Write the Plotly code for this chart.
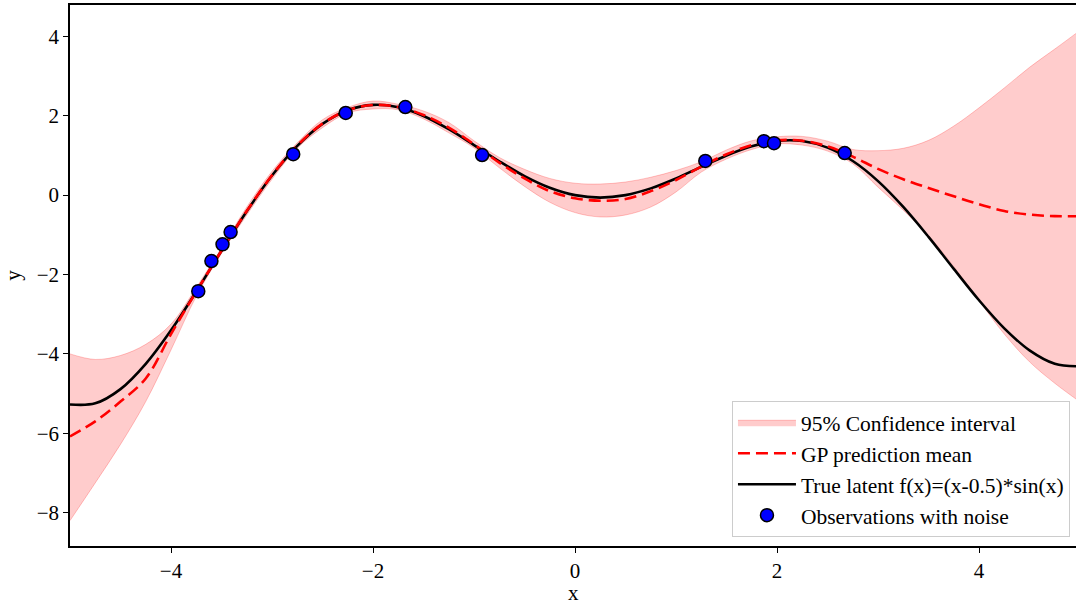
import plotly.graph_objects as go

# grid of x positions (every 0.25)
x_grid = [-5.0, -4.75, -4.5, -4.25, -4.0, -3.75, -3.5, -3.25, -3.0, -2.75,
          -2.5, -2.25, -2.0, -1.75, -1.5, -1.25, -1.0, -0.75, -0.5, -0.25,
          0.0, 0.25, 0.5, 0.75, 1.0, 1.25, 1.5, 1.75, 2.0, 2.25,
          2.5, 2.75, 3.0, 3.25, 3.5, 3.75, 4.0, 4.25, 4.5, 4.75, 5.0]

# true latent function values
true_y = [-5.274, -5.246, -4.888, -4.251, -3.406, -2.429, -1.403, -0.406, 0.494, 1.241,
          1.796, 2.140, 2.273, 2.214, 1.995, 1.661, 1.262, 0.852, 0.479, 0.186,
          0.0, -0.062, 0.0, 0.170, 0.421, 0.712, 0.998, 1.230, 1.364, 1.362,
          1.197, 0.859, 0.353, -0.298, -1.052, -1.858, -2.649, -3.356, -3.910, -4.247, -4.315]

# GP prediction mean
gp_mean = [-6.08, -5.70, -5.20, -4.62, -3.50, -2.43, -1.40, -0.40, 0.50, 1.25,
           1.80, 2.14, 2.27, 2.22, 2.02, 1.70, 1.28, 0.82, 0.42, 0.10,
           -0.08, -0.14, -0.10, 0.10, 0.38, 0.72, 1.03, 1.26, 1.38, 1.37,
           1.23, 0.97, 0.66, 0.40, 0.18, -0.03, -0.23, -0.40, -0.49, -0.53, -0.53]

# 95% confidence interval bounds
ci_upper = [-4.00, -4.14, -4.04, -3.76, -3.25, -2.33, -1.33, -0.30, 0.60, 1.32,
            1.90, 2.21, 2.37, 2.29, 2.12, 1.83, 1.37, 0.95, 0.65, 0.42,
            0.30, 0.28, 0.33, 0.45, 0.62, 0.84, 1.14, 1.37, 1.47, 1.48,
            1.36, 1.15, 1.12, 1.18, 1.38, 1.74, 2.20, 2.70, 3.22, 3.68, 4.15]
ci_lower = [-8.20, -7.25, -6.28, -5.20, -3.90, -2.55, -1.47, -0.50, 0.40, 1.18,
            1.70, 2.07, 2.17, 2.15, 1.92, 1.57, 1.19, 0.69, 0.22, -0.18,
            -0.44, -0.55, -0.50, -0.30, 0.08, 0.58, 0.91, 1.15, 1.29, 1.26,
            1.11, 0.79, 0.20, -0.38, -1.02, -1.80, -2.66, -3.50, -4.20, -4.74, -5.21]

# noisy observations
obs_x = [-3.73, -3.60, -3.49, -3.41, -2.79, -2.27, -1.68, -0.92, 1.29, 1.87, 1.97, 2.67]
obs_y = [-2.42, -1.66, -1.24, -0.93, 1.03, 2.07, 2.22, 1.01, 0.86, 1.36, 1.31, 1.06]

FONT = "Liberation Serif, Times New Roman, serif"
BAND_EDGE = "rgba(255,0,0,0.22)"

fig = go.Figure()

fig.add_trace(go.Scatter(
    x=x_grid, y=ci_lower, mode="lines",
    line=dict(color=BAND_EDGE, width=1, shape="spline"),
    showlegend=False, hoverinfo="skip",
))
fig.add_trace(go.Scatter(
    x=x_grid, y=ci_upper, mode="lines",
    fill="tonexty", fillcolor="rgba(255,0,0,0.2)",
    line=dict(color=BAND_EDGE, width=1, shape="spline"),
    name="95% Confidence interval",
    legendrank=1, hoverinfo="skip",
))

fig.add_trace(go.Scatter(
    x=x_grid, y=true_y, mode="lines",
    line=dict(color="black", width=2.6, shape="spline"),
    name="True latent f(x)=(x-0.5)*sin(x)",
    legendrank=3,
))

fig.add_trace(go.Scatter(
    x=x_grid, y=gp_mean, mode="lines",
    line=dict(color="red", width=2.6, dash="12px,6px", shape="spline"),
    name="GP prediction mean",
    legendrank=2,
))

fig.add_trace(go.Scatter(
    x=obs_x, y=obs_y, mode="markers",
    marker=dict(color="blue", size=13, line=dict(color="black", width=1.5)),
    name="Observations with noise",
    legendrank=4,
))

fig.update_layout(
    width=1076, height=606,
    margin=dict(l=70, r=0, t=5, b=60),
    paper_bgcolor="white", plot_bgcolor="white",
    font=dict(family=FONT, size=21, color="black"),
    showlegend=True,
    legend=dict(
        x=0.994, y=0.017, xanchor="right", yanchor="bottom",
        traceorder="normal",
        bgcolor="rgba(255,255,255,0.85)", bordercolor="#cccccc", borderwidth=1,
        font=dict(family=FONT, size=21.5),
        itemwidth=58,
        tracegroupgap=0,
    ),
    annotations=[dict(
        text="x", xref="paper", yref="paper", x=0.5, y=-0.1109,
        xanchor="center", yanchor="bottom", showarrow=False, borderpad=0,
        font=dict(family=FONT, size=21),
    )],
)

fig.update_xaxes(
    range=[-5, 4.96], tickvals=[-4, -2, 0, 2, 4],
    showgrid=False, zeroline=False, automargin=False,
    showline=True, linecolor="black", linewidth=1.5, mirror=True,
    ticks="outside", ticklen=5, tickwidth=1.2, tickcolor="black",
    tickfont=dict(family=FONT, size=21),
)
fig.update_yaxes(
    range=[-8.84, 4.79], tickvals=[-8, -6, -4, -2, 0, 2, 4],
    showgrid=False, zeroline=False, automargin=False,
    showline=True, linecolor="black", linewidth=1.5, mirror=False,
    ticks="outside", ticklen=5, tickwidth=1.2, tickcolor="black",
    tickfont=dict(family=FONT, size=21),
    title=dict(text="y", standoff=10, font=dict(family=FONT, size=21)),
)

fig.write_html("out.html")
